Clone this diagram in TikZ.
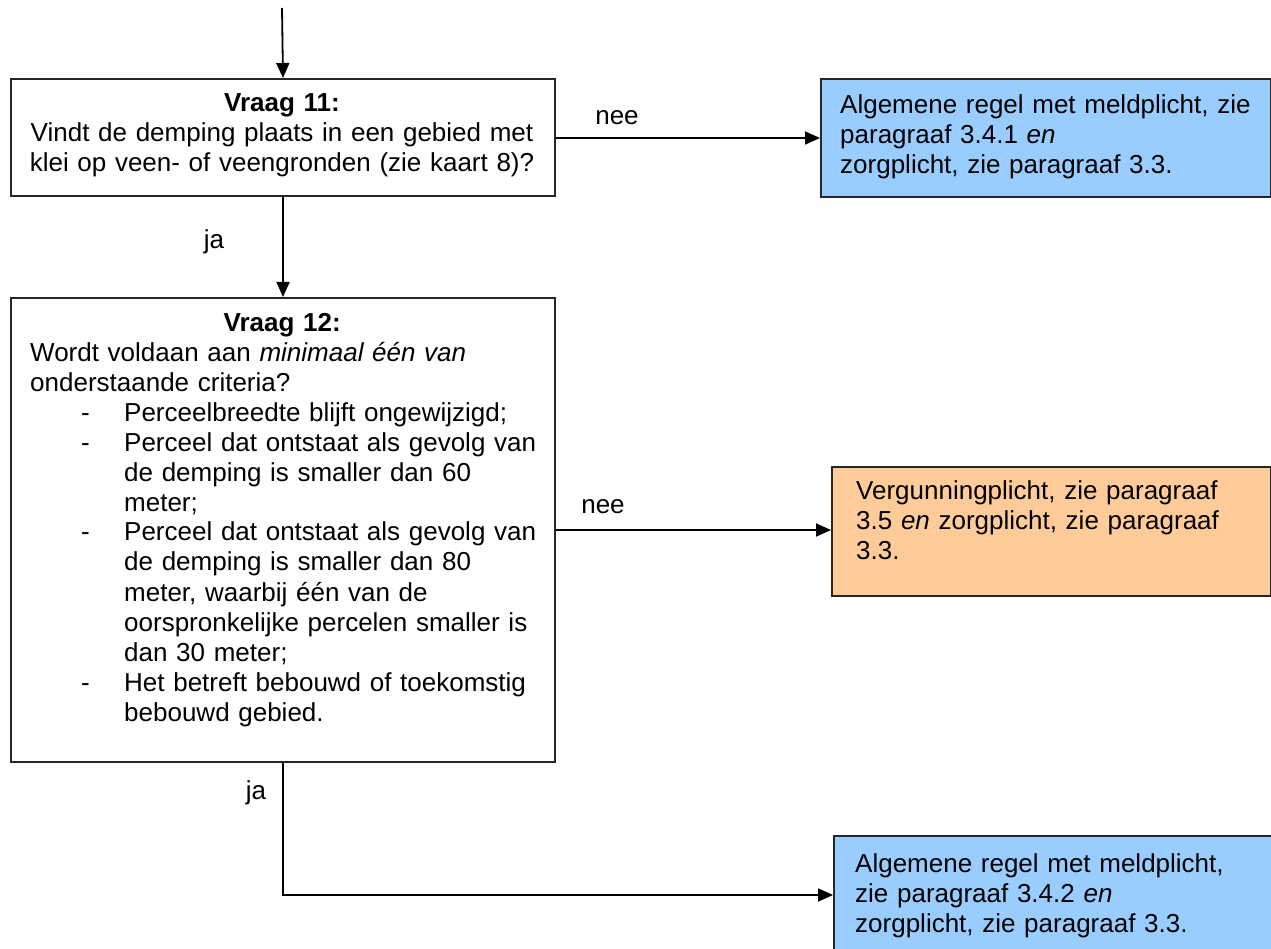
\documentclass[tikz,border=0pt]{standalone}
\usepackage{fontspec}
\setmainfont{Liberation Sans}
\usepackage{tikz}
\usetikzlibrary{positioning,arrows.meta}

\definecolor{meldblue}{RGB}{153,204,255}
\definecolor{vergorange}{RGB}{255,204,153}

\newcommand{\critdash}{\hspace*{51pt}\makebox[43pt][l]{-}}
\newcommand{\critcont}{\hspace*{94pt}}

\tikzset{
  box/.style={draw=black!85, line width=2pt, rectangle, anchor=north west, inner sep=0pt},
  txt/.style={inner sep=0pt, font=\fontsize{26pt}{30pt}\selectfont},
  arr/.style={line width=1.8pt, -{Triangle[length=15pt,width=13pt]}}
}

\begin{document}
\begin{tikzpicture}[x=1pt,y=-1pt]
\useasboundingbox (0,0) rectangle (1271,949);

% boxes
\node[box, fill=white, minimum width=544pt, minimum height=117pt] (q11) at (10,78) {};
\node[box, fill=meldblue, minimum width=450pt, minimum height=118pt] (b1) at (820,78) {};
\node[box, fill=white, minimum width=544pt, minimum height=464pt] (q12) at (10,297) {};
\node[box, fill=vergorange, minimum width=439pt, minimum height=129pt] (ver) at (831,466) {};
\node[box, fill=meldblue, minimum width=447pt, minimum height=118pt] (b2) at (833,835) {};

% texts
\node[txt, text width=540pt, align=center, anchor=base] (q11txt) at (282,112)
  {\textbf{Vraag 11:}\\ Vindt de demping plaats in een gebied met\\ klei op veen- of veengronden (zie kaart 8)?};
\node[txt, text width=430pt, align=left, anchor=base west] (b1txt) at (840,114)
  {Algemene regel met meldplicht, zie\\ paragraaf 3.4.1 \textit{en}\\ zorgplicht, zie paragraaf 3.3.};
\node[txt, text width=540pt, align=left, anchor=base west] (q12txt) at (30,331)
  {\makebox[504pt][c]{\textbf{Vraag 12:}}\\
   Wordt voldaan aan \textit{minimaal één van}\\
   onderstaande criteria?\\
   \critdash Perceelbreedte blijft ongewijzigd;\\
   \critdash Perceel dat ontstaat als gevolg van\\
   \critcont de demping is smaller dan 60\\
   \critcont meter;\\
   \critdash Perceel dat ontstaat als gevolg van\\
   \critcont de demping is smaller dan 80\\
   \critcont meter, waarbij één van de\\
   \critcont oorspronkelijke percelen smaller is\\
   \critcont dan 30 meter;\\
   \critdash Het betreft bebouwd of toekomstig\\
   \critcont bebouwd gebied.};
\node[txt, text width=410pt, align=left, anchor=base west] (vertxt) at (856,499)
  {Vergunningplicht, zie paragraaf\\ 3.5 \textit{en} zorgplicht, zie paragraaf\\ 3.3.};
\node[txt, text width=410pt, align=left, anchor=base west] (b2txt) at (855,872)
  {Algemene regel met meldplicht,\\ zie paragraaf 3.4.2 \textit{en}\\ zorgplicht, zie paragraaf 3.3.};

% labels
\node[txt] (nee1) at (617,118) {nee};
\node[txt] (ja1) at (214,242) {ja};
\node[txt] (nee2) at (603,507) {nee};
\node[txt] (ja2) at (256,793) {ja};

% connectors
\coordinate (start) at (282,8);
\draw[arr] (start) -- (q11.north);
\draw[arr] (b1.west -| q11.east) -- (b1.west);
\draw[arr] (q11.south) -- (q12.north);
\draw[arr] (q12.east) -- (q12.east -| ver.west);
\draw[arr] (q12.south) |- (b2.west);
\end{tikzpicture}
\end{document}
